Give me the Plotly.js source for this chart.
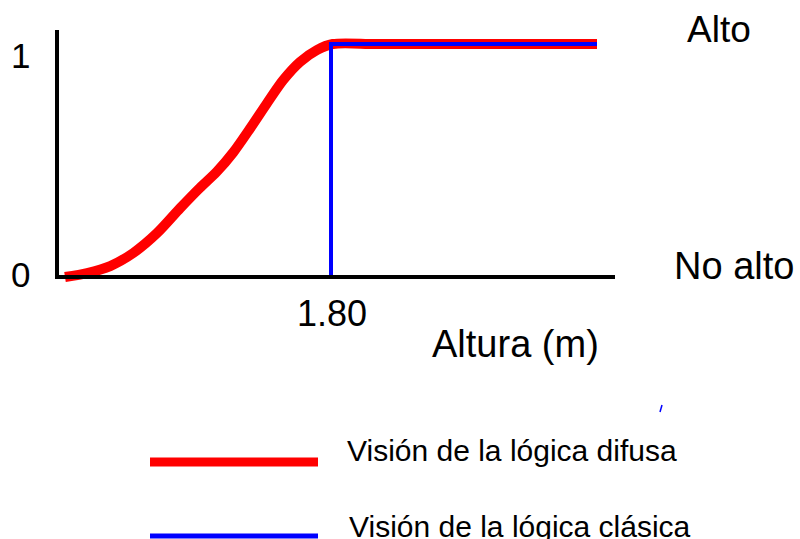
<!DOCTYPE html>
<html>
<head>
<meta charset="utf-8">
<script src="https://cdn.plot.ly/plotly-3.0.1.min.js"></script>
<style>html,body{margin:0;padding:0;background:#fff;}#chart{width:800px;height:539px;}</style>
</head>
<body>
<div id="chart"></div>
<script>
// Data
var fuzzyX = [1.50, 1.525, 1.551, 1.577, 1.604, 1.630, 1.652, 1.671, 1.690, 1.709, 1.728, 1.746, 1.765, 1.784, 1.802, 1.85, 1.95, 2.05, 2.10];
var fuzzyY = [0.000, 0.017, 0.047, 0.103, 0.189, 0.296, 0.382, 0.451, 0.536, 0.639, 0.747, 0.845, 0.923, 0.974, 1.000, 1.000, 1.000, 1.000, 1.000];
var crispX = [1.80, 1.80, 2.10];
var crispY = [0, 1, 1];
var thresholdLabel = "1.80";
var yTickLabels = ["0", "1"];
var stateLabels = ["No alto", "Alto"];
var axisTitle = "Altura (m)";
var seriesNames = ["Visión de la lógica difusa", "Visión de la lógica clásica"];

var W = 800, H = 539;
function px(p) { return p / W; }
function py(p) { return 1 - p / H; }
var font = "Liberation Sans, Arial, sans-serif";

var traces = [
  {x: fuzzyX, y: fuzzyY, mode: "lines", line: {color: "#FF0000", width: 10, shape: "spline", smoothing: 0.8}, hoverinfo: "skip", cliponaxis: false},
  {x: crispX, y: crispY, mode: "lines", line: {color: "#0000FF", width: 4}, hoverinfo: "skip", cliponaxis: false}
];

function ann(text, x, y, size, xanchor) {
  return {text: text, xref: "paper", yref: "paper", x: px(x), y: py(y), xanchor: xanchor || "left", yanchor: "middle",
          showarrow: false, font: {family: font, size: size, color: "#000"}, borderpad: 0};
}

var layout = {
  width: W, height: H,
  margin: {l: 0, r: 0, t: 0, b: 0},
  paper_bgcolor: "#fff", plot_bgcolor: "#fff",
  showlegend: false,
  xaxis: {range: [1.80 - 331 * 0.3 / 266, 1.80 + 469 * 0.3 / 266], visible: false, fixedrange: true},
  yaxis: {range: [(277 - 539) / 233, 277 / 233], visible: false, fixedrange: true},
  shapes: [
    {type: "line", xref: "paper", yref: "paper", x0: px(57), x1: px(57), y0: py(279), y1: py(30), line: {color: "#000", width: 4}},
    {type: "line", xref: "paper", yref: "paper", x0: px(55), x1: px(615), y0: py(277), y1: py(277), line: {color: "#000", width: 4}},
    {type: "line", xref: "paper", yref: "paper", x0: px(150), x1: px(318), y0: py(462), y1: py(462), line: {color: "#FF0000", width: 9}},
    {type: "line", xref: "paper", yref: "paper", x0: px(150), x1: px(318), y0: py(536), y1: py(536), line: {color: "#0000FF", width: 5}},
    {type: "line", xref: "paper", yref: "paper", x0: px(660), x1: px(662), y0: py(412), y1: py(405), line: {color: "#0000FF", width: 1.5}}
  ],
  annotations: [
    ann(yTickLabels[1], 20, 55, 35, "center"),
    ann(yTickLabels[0], 20, 274, 35, "center"),
    ann(stateLabels[1], 686, 29, 37),
    ann(stateLabels[0], 673, 266, 38),
    ann(thresholdLabel, 296, 313, 36),
    ann(axisTitle, 431, 344, 38),
    ann(seriesNames[0], 346, 450, 30),
    ann(seriesNames[1], 348, 526, 30)
  ]
};

Plotly.newPlot("chart", traces, layout, {displayModeBar: false, staticPlot: true});
</script>
</body>
</html>
